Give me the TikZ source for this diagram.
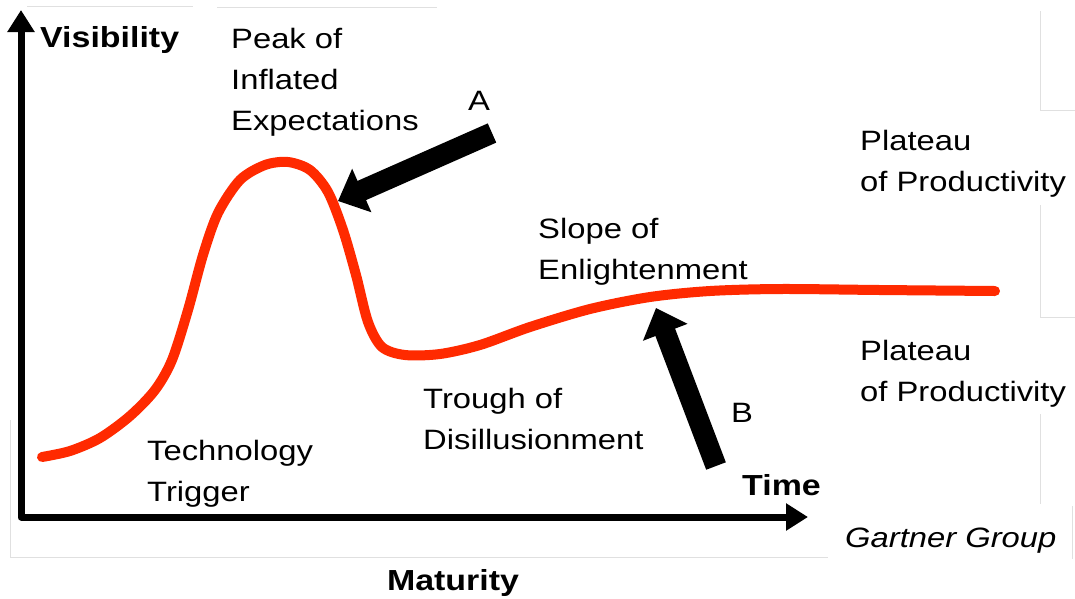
\documentclass[tikz,border=0pt]{standalone}
\usepackage{fontspec}
\setmainfont[FakeStretch=1.17]{Liberation Sans}
\usetikzlibrary{arrows.meta}
\definecolor{hypered}{HTML}{FF2A00}
\tikzset{
  phase/.style={anchor=north west,inner sep=0pt,align=left,font=\fontsize{28}{41}\selectfont},
  axislabel/.style={anchor=base west,inner sep=0pt,font=\fontsize{29}{41}\selectfont\bfseries},
  axis/.style={line width=7pt,line join=round,{Triangle[length=22pt,width=26pt]}-{Triangle[length=22pt,width=26pt]}},
  pointer/.style={line width=21pt,-{Triangle[length=26pt,width=46pt]}},
  hype/.style={draw=hypered,line width=10pt,line cap=round,line join=round},
  ghost/.style={draw=black!12,line width=0.8pt}
}
\NewDocumentCommand{\phase}{mmm}{%
\node[phase] (#1) at (#2) {#3};%
}

\begin{document}
\begin{tikzpicture}[x=1pt,y=-1pt]
\fill[white] (0,0) rectangle (1075,598);
\useasboundingbox (0,0) rectangle (1075,598);

% faint frames left over from the slide
\draw[ghost] (27,6) -- (193,6) (217,7) -- (437,7);
\draw[ghost] (1040,11) |- (1075,110) (1040,205) |- (1075,317) (1040,414) -- (1040,504);
\draw[ghost] (10,420) |- (828,557) (1072,506) -- (1072,559);

% axes
\coordinate (origin) at (21,517);
\coordinate (vtip) at (21,10);
\coordinate (htip) at (808,517);
\draw[axis] (vtip) -- (origin) -- (htip);
\node[axislabel] (visibility) at (40,47) {Visibility};
\node[axislabel] (time) at (742,495) {Time};
\node[axislabel,anchor=base] (maturity) at (453,590) {Maturity};

% hype curve
\draw[hype] plot[smooth,tension=0.5] coordinates {(42,457) (70,451) (100,438) (130,416)
  (155,390) (172,360) (188,310) (203,255) (218,213) (240,180) (265,165) (288,162)
  (310,170) (328,192) (343,230) (356,275) (368,322) (382,347) (405,355) (440,354)
  (480,345) (530,327) (590,309) (650,297) (710,291) (780,289) (880,290) (995,291)};

% phases
\phase{peak}{231,28}{Peak of\\Inflated\\Expectations}
\phase{plateauhi}{860,130}{Plateau\\of Productivity}
\phase{slope}{538,218}{Slope of\\Enlightenment}
\phase{plateaulo}{860,340}{Plateau\\of Productivity}
\phase{trough}{423,388}{Trough of\\Disillusionment}
\phase{trigger}{147,440}{Technology\\Trigger}
\node[phase,anchor=base west,font=\fontsize{28}{41}\selectfont\itshape] (gartner) at (845,547) {Gartner Group};

% pointers
\node[phase,anchor=center] (labelA) at (479,101) {A};
\node[phase,anchor=center] (labelB) at (742,413) {B};
\coordinate (aTail) at (492,133);
\coordinate (aTip) at (338,201);
\coordinate (bTail) at (716,466);
\coordinate (bTip) at (656,308);
\draw[pointer] (aTail) -- (aTip);
\draw[pointer] (bTail) -- (bTip);
\end{tikzpicture}
\end{document}
